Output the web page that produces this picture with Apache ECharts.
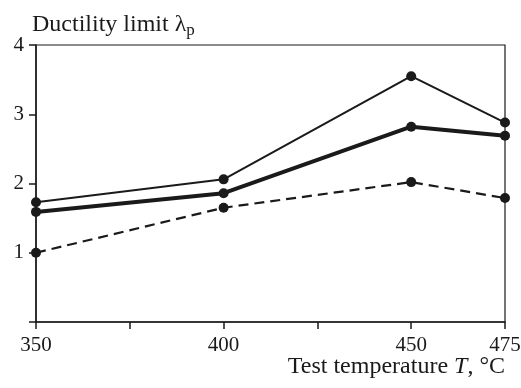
<!DOCTYPE html>
<html><head><meta charset="utf-8">
<script src="https://cdn.jsdelivr.net/npm/echarts@6/dist/echarts.min.js"></script>
<style>html,body{margin:0;padding:0;background:#fff}#c{width:521px;height:388px}</style>
</head><body><div id="c"></div>
<script>
var temps = [350, 400, 450, 475];
var upperThin = [1.73, 2.06, 3.55, 2.88];
var middleThick = [1.59, 1.86, 2.82, 2.69];
var lowerDashed = [1.0, 1.65, 2.02, 1.79];
var xLabels = [350, 400, 450, 475];
var yLabels = [1, 2, 3, 4];

function pairs(v){ return temps.map(function(t,i){ return [t, v[i]]; }); }
var FONT = '"Liberation Serif", "DejaVu Serif", serif';
var ink = '#1a1a1a';
var chart = echarts.init(document.getElementById('c'));
chart.setOption({
  animation: false,
  backgroundColor: '#fff',
  textStyle: {fontFamily: FONT, color: ink},
  title: [
    {left: 27, top: 5, text: 'Ductility limit λ{s|p}',
     textStyle: {fontFamily: FONT, fontSize: 24, fontWeight: 'normal', color: ink,
       rich: {s: {fontFamily: FONT, fontSize: 17, verticalAlign: 'bottom', padding: [12,0,0,0], color: ink}}}},
    {right: 11, top: 350, text: 'Test temperature {i|T}, °C',
     textStyle: {fontFamily: FONT, fontSize: 24, fontWeight: 'normal', color: ink,
       rich: {i: {fontFamily: FONT, fontSize: 24, fontStyle: 'italic', color: ink}}}}
  ],
  grid: {left: 36, right: 16, top: 45, bottom: 66, containLabel: false, outerBoundsMode: 'none',
    show: true, borderColor: ink, borderWidth: 1.2, backgroundColor: 'transparent'},
  xAxis: {type: 'value', min: 350, max: 475, interval: 25,
    axisLine: {lineStyle: {color: ink, width: 1.5}},
    axisTick: {inside: false, length: 7, lineStyle: {color: ink, width: 1.5}},
    splitLine: {show: false},
    axisLabel: {fontFamily: FONT, fontSize: 21, color: ink, margin: 13, showMaxLabel: true, hideOverlap: false,
      formatter: function(v){ return xLabels.indexOf(v) >= 0 ? String(v) : ''; }}},
  yAxis: {type: 'value', min: 0, max: 4, interval: 1,
    axisLine: {show: true, lineStyle: {color: ink, width: 1.5}},
    axisTick: {show: true, inside: false, length: 7, lineStyle: {color: ink, width: 1.5}},
    splitLine: {show: false},
    axisLabel: {fontFamily: FONT, fontSize: 21, color: ink, margin: 12,
      formatter: function(v){ return yLabels.indexOf(v) >= 0 ? String(v) : ''; }}},
  series: [
    {type: 'line', data: pairs(upperThin), symbol: 'circle', symbolSize: 10,
     lineStyle: {color: ink, width: 2}, itemStyle: {color: ink}},
    {type: 'line', data: pairs(middleThick), symbol: 'circle', symbolSize: 10,
     lineStyle: {color: ink, width: 4}, itemStyle: {color: ink}},
    {type: 'line', data: pairs(lowerDashed), symbol: 'circle', symbolSize: 10,
     lineStyle: {color: ink, width: 2.2, type: [10, 6]}, itemStyle: {color: ink}}
  ]
});
</script></body></html>
